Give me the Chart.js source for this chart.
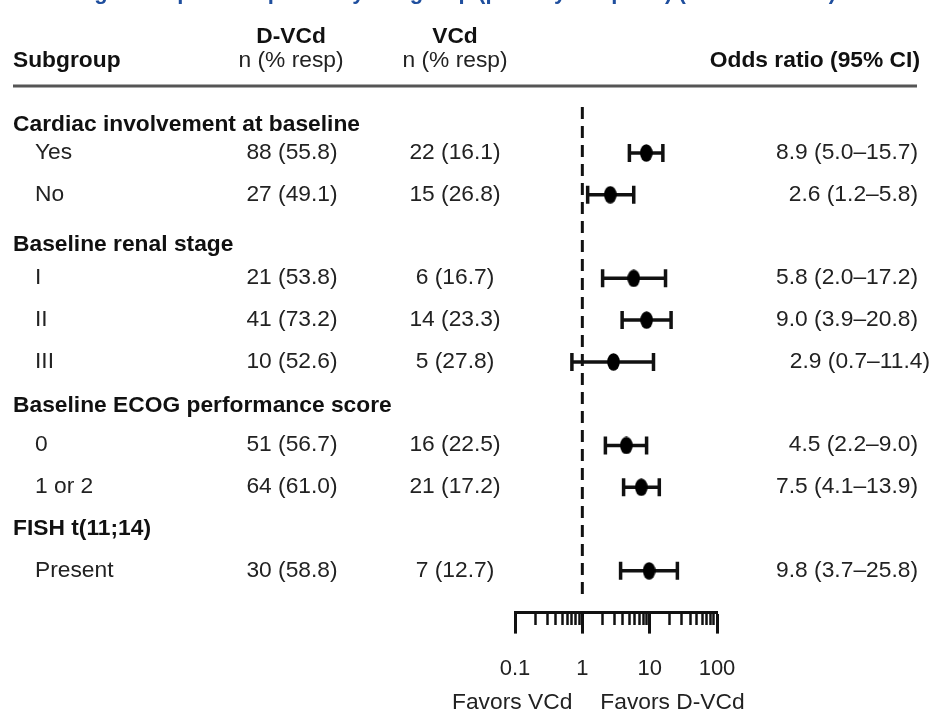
<!DOCTYPE html>
<html>
<head>
<meta charset="utf-8">
<script src="https://cdn.jsdelivr.net/npm/chart.js@4.4.1/dist/chart.umd.min.js"></script>
<style>
  html, body { margin: 0; padding: 0; background: #fff; }
  #wrap { width: 936px; height: 713px; }
</style>
</head>
<body>
<div id="wrap"><canvas id="forest" width="936" height="713"></canvas></div>
<script>
// --- data ---
const groupTitles = ['Cardiac involvement at baseline', 'Baseline renal stage', 'Baseline ECOG performance score', 'FISH t(11;14)'];
const groupSizes = [2, 3, 2, 1];
const rowLabels = ['Yes', 'No', 'I', 'II', 'III', '0', '1 or 2', 'Present'];
const dvcdN = [88, 27, 21, 41, 10, 51, 64, 30];
const dvcdPct = [55.8, 49.1, 53.8, 73.2, 52.6, 56.7, 61.0, 58.8];
const vcdN = [22, 15, 6, 14, 5, 16, 21, 7];
const vcdPct = [16.1, 26.8, 16.7, 23.3, 27.8, 22.5, 17.2, 12.7];
const oddsRatio = [8.9, 2.6, 5.8, 9.0, 2.9, 4.5, 7.5, 9.8];
const ciLow = [5.0, 1.2, 2.0, 3.9, 0.7, 2.2, 4.1, 3.7];
const ciHigh = [15.7, 5.8, 17.2, 20.8, 11.4, 9.0, 13.9, 25.8];
const refValue = 1;
const majorTicks = [0.1, 1, 10, 100];
const minorSteps = [2, 3, 4, 5, 6, 7, 8, 9];

// --- layout (row slots: one per header and per subgroup line) ---
const headerShift = [0.33, 0.2, 0.05, 0];
const orTextNudge = [0, 0, 0, 0, 12, 0, 0, 0];
const headerSlots = [];
const rowSlots = [];
let slot = 0;
groupSizes.forEach(n => {
    headerSlots.push(slot++);
    for (let i = 0; i < n; i++) rowSlots.push(slot++);
});
const yMin = -0.1, yMax = 12;

const FONT = '"Liberation Sans", Arial, Helvetica, sans-serif';
const TEXT = '#222';
const STRETCH = 1.06;

const tickValues = [];
majorTicks.forEach((m, i) => {
    tickValues.push(m);
    if (i < majorTicks.length - 1) minorSteps.forEach(s => tickValues.push(+(m * s).toFixed(3)));
});
const isMajor = v => majorTicks.some(m => Math.abs(m - v) < 1e-9);

// filled ellipse used as point marker
const marker = document.createElement('canvas');
marker.width = 13; marker.height = 18;
(function () {
    const c = marker.getContext('2d');
    c.fillStyle = '#000';
    c.beginPath();
    c.ellipse(6.5, 9, 6.3, 8.8, 0, 0, Math.PI * 2);
    c.fill();
})();

function txt(ctx, s, x, y, align, weight, color) {
    ctx.save();
    ctx.translate(x, y);
    ctx.scale(STRETCH, 1);
    ctx.font = `${weight} 21.5px ${FONT}`;
    ctx.fillStyle = color || TEXT;
    ctx.textAlign = align;
    ctx.textBaseline = 'middle';
    ctx.fillText(s, 0, 0);
    ctx.restore();
}

const tablePlugin = {
    id: 'table',
    afterDraw(chart) {
        const ctx = chart.ctx;
        const ys = chart.scales.y;
        const xs = chart.scales.x;

        // cropped title above the figure
        ctx.save();
        ctx.font = `bold 22px ${FONT}`;
        ctx.fillStyle = '#1f4f9e';
        ctx.textBaseline = 'alphabetic';
        ctx.fillText('Hematologic complete response by subgroup (primary endpoint) (intent-to-treat)', -6, -1);
        ctx.restore();

        // column headers
        txt(ctx, 'D-VCd', 291, 37, 'center', 'bold', '#111');
        txt(ctx, 'VCd', 455, 37, 'center', 'bold', '#111');
        txt(ctx, 'Subgroup', 13, 61, 'left', 'bold', '#111');
        txt(ctx, 'n (% resp)', 291, 61, 'center', 'normal');
        txt(ctx, 'n (% resp)', 455, 61, 'center', 'normal');
        txt(ctx, 'Odds ratio (95% CI)', 920, 61, 'right', 'bold', '#111');

        ctx.save();
        ctx.strokeStyle = '#555';
        ctx.lineWidth = 3;
        ctx.beginPath();
        ctx.moveTo(13, 86);
        ctx.lineTo(917, 86);
        ctx.stroke();
        ctx.restore();

        groupTitles.forEach((t, g) => {
            txt(ctx, t, 13, ys.getPixelForValue(headerSlots[g] + headerShift[g]), 'left', 'bold', '#111');
        });

        rowLabels.forEach((lab, i) => {
            const y = ys.getPixelForValue(rowSlots[i]);
            txt(ctx, lab, 35, y, 'left', 'normal');
            txt(ctx, `${dvcdN[i]} (${dvcdPct[i].toFixed(1)})`, 292, y, 'center', 'normal');
            txt(ctx, `${vcdN[i]} (${vcdPct[i].toFixed(1)})`, 455, y, 'center', 'normal');
            const s = `${oddsRatio[i].toFixed(1)} (${ciLow[i].toFixed(1)}\u2013${ciHigh[i].toFixed(1)})`;
            txt(ctx, s, 918 + orTextNudge[i], y, 'right', 'normal');
        });

        // favours labels under the axis
        const x1 = xs.getPixelForValue(refValue);
        txt(ctx, 'Favors VCd', x1 - 10, 703, 'right', 'normal');
        txt(ctx, 'Favors D-VCd', x1 + 18, 703, 'left', 'normal');
    }
};

const ciSets = rowLabels.map((lab, i) => ({
    label: lab + ' CI',
    data: [{ x: ciLow[i], y: rowSlots[i] }, { x: ciHigh[i], y: rowSlots[i] }],
    showLine: true,
    borderColor: '#111',
    borderWidth: 3.5,
    pointStyle: 'line',
    rotation: 90,
    pointRadius: 9,
    pointBorderWidth: 3.5,
    pointBorderColor: '#111',
    order: 1
}));

new Chart(document.getElementById('forest'), {
    type: 'scatter',
    data: {
        datasets: [
            {
                label: 'Odds ratio',
                data: oddsRatio.map((v, i) => ({ x: v, y: rowSlots[i] })),
                pointStyle: marker,
                pointRadius: 9,
                order: 0
            },
            ...ciSets,
            {
                label: 'No effect',
                data: [{ x: refValue, y: yMin }, { x: refValue, y: yMax - 0.33 }],
                showLine: true,
                borderColor: '#111',
                borderWidth: 3,
                borderDash: [12, 7],
                pointRadius: 0,
                order: 2
            }
        ]
    },
    options: {
        responsive: false,
        animation: false,
        events: [],
        layout: { padding: { top: 107, left: 515, right: 219, bottom: 9 } },
        plugins: { legend: { display: false }, tooltip: { enabled: false } },
        scales: {
            x: {
                type: 'logarithmic',
                position: 'bottom',
                min: 0.1,
                max: 100,
                afterBuildTicks: scale => {
                    scale.ticks = tickValues.map(v => ({ value: v }));
                },
                border: { display: true, color: '#111', width: 3 },
                grid: {
                    display: true,
                    drawOnChartArea: false,
                    drawTicks: true,
                    tickLength: 21,
                    tickColor: '#111',
                    tickWidth: c => isMajor(c.tick.value) ? 3 : 2.5,
                    tickBorderDash: c => isMajor(c.tick.value) ? [] : [11, 40]
                },
                ticks: {
                    autoSkip: false,
                    maxRotation: 0,
                    padding: 22,
                    color: TEXT,
                    font: { family: FONT, size: 22 },
                    callback: v => isMajor(v) ? String(v) : ''
                }
            },
            y: {
                type: 'linear',
                reverse: true,
                min: yMin,
                max: yMax,
                display: false
            }
        }
    },
    plugins: [tablePlugin]
});
</script>
</body>
</html>
